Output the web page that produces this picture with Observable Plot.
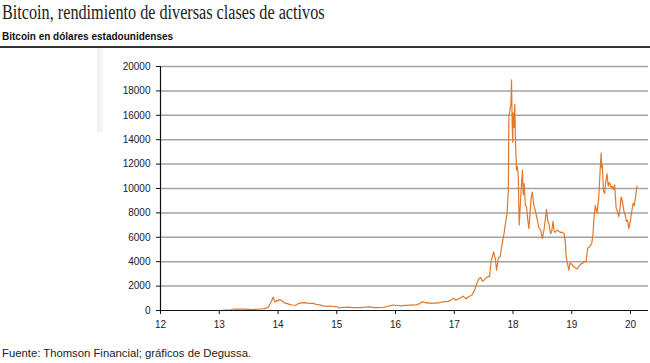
<!DOCTYPE html>
<html><head><meta charset="utf-8">
<script src="https://cdn.jsdelivr.net/npm/d3@7"></script>
<script src="https://cdn.jsdelivr.net/npm/@observablehq/plot@0.6"></script>
<style>
body{margin:0;background:#fff;width:650px;height:363px;position:relative;overflow:hidden;font-family:"Liberation Sans",Arial,sans-serif;color:#111}
#title{position:absolute;left:2px;top:1px;font-family:"Liberation Serif","Times New Roman",serif;font-size:20px;color:#222;white-space:nowrap;transform:scaleX(0.81);transform-origin:0 0}
#subtitle{position:absolute;left:2px;top:31px;font-size:10px;font-weight:bold;color:#111;white-space:nowrap}
#rule{position:absolute;left:0;top:46px;width:650px;height:1.5px;background:#333}
#band{position:absolute;left:97px;top:48px;width:6px;height:84px;background:linear-gradient(to right,#f0f0f0,#f9f9f9)}
#chart{position:absolute;left:0;top:48px}
#caption{position:absolute;left:2px;top:347px;font-size:11.3px;color:#222;white-space:nowrap}
</style></head>
<body>
<div id="title">Bitcoin, rendimiento de diversas clases de activos</div>
<div id="subtitle">Bitcoin en dólares estadounidenses</div>
<div id="rule"></div>
<div id="band"></div>
<div id="chart"></div>
<div id="caption">Fuente: Thomson Financial; gráficos de Degussa.</div>
<script>
const xTicks = [12, 13, 14, 15, 16, 17, 18, 19, 20];
const yTicks = [0, 2000, 4000, 6000, 8000, 10000, 12000, 14000, 16000, 18000, 20000];

const years = [
  13.05, 13.1, 13.15, 13.2, 13.25, 13.28, 13.32, 13.4, 13.5, 13.55,
  13.6, 13.7, 13.75, 13.8, 13.84, 13.87, 13.9, 13.92, 13.94, 13.96,
  13.98, 14.0, 14.03, 14.06, 14.1, 14.13, 14.16, 14.2, 14.25, 14.3,
  14.35, 14.4, 14.45, 14.5, 14.55, 14.6, 14.65, 14.7, 14.75, 14.8,
  14.85, 14.9, 14.95, 15.0, 15.03, 15.06, 15.1, 15.15, 15.2, 15.25,
  15.3, 15.35, 15.4, 15.45, 15.5, 15.55, 15.6, 15.65, 15.7, 15.75,
  15.8, 15.85, 15.9, 15.95, 16.0, 16.05, 16.1, 16.15, 16.2, 16.25,
  16.3, 16.35, 16.4, 16.45, 16.48, 16.52, 16.55, 16.6, 16.65, 16.7,
  16.75, 16.8, 16.85, 16.9, 16.95, 16.98, 17.0, 17.02, 17.05, 17.1,
  17.15, 17.18, 17.2, 17.25, 17.3, 17.35, 17.38, 17.42, 17.45, 17.48,
  17.52, 17.56, 17.6, 17.63, 17.67, 17.7, 17.72, 17.75, 17.78, 17.82,
  17.85, 17.87, 17.9, 17.92, 17.93, 17.95, 17.965, 17.975, 17.985, 17.995,
  18.0, 18.015, 18.03, 18.04, 18.06, 18.075, 18.09, 18.105, 18.12, 18.14,
  18.16, 18.175, 18.19, 18.21, 18.23, 18.25, 18.27, 18.29, 18.31, 18.33,
  18.35, 18.38, 18.41, 18.44, 18.47, 18.5, 18.53, 18.57, 18.59, 18.61,
  18.64, 18.66, 18.68, 18.7, 18.72, 18.75, 18.78, 18.81, 18.84, 18.87,
  18.89, 18.905, 18.93, 18.95, 18.97, 19.0, 19.03, 19.06, 19.09, 19.12,
  19.15, 19.18, 19.21, 19.245, 19.27, 19.3, 19.34, 19.36, 19.38, 19.4,
  19.43, 19.46, 19.48, 19.5, 19.51, 19.52, 19.54, 19.56, 19.58, 19.6,
  19.62, 19.64, 19.67, 19.69, 19.71, 19.73, 19.755, 19.78, 19.8, 19.82,
  19.84, 19.86, 19.885, 19.91, 19.93, 19.95, 19.97, 19.99, 20.0, 20.02,
  20.045, 20.065, 20.085, 20.11
];
const prices = [
  20, 25, 35, 60, 140, 90, 110, 115, 95, 80,
  100, 125, 130, 190, 300, 600, 900, 1100, 750, 700,
  850, 780, 900, 820, 650, 600, 560, 480, 450, 430,
  570, 620, 640, 610, 590, 590, 500, 470, 400, 360,
  340, 370, 330, 310, 240, 220, 250, 260, 270, 240,
  230, 240, 235, 260, 270, 290, 280, 230, 240, 245,
  260, 330, 380, 440, 430, 410, 380, 420, 415, 440,
  455, 450, 540, 700, 680, 620, 650, 580, 600, 610,
  640, 700, 730, 750, 880, 960, 1000, 850, 910, 1000,
  1180, 1050, 960, 1150, 1250, 1700, 2200, 2600, 2700, 2400,
  2550, 2750, 2800, 4100, 4800, 4200, 3300, 4300, 4400, 5600,
  6400, 7100, 8000, 9800, 15900, 16500, 17000, 18900, 15500, 13800,
  16200, 15000, 16900, 14200, 11500, 11800, 10900, 7000, 8300, 10000,
  11500, 9500, 10400, 8600, 8500, 7500, 6700, 8000, 9300, 9700,
  8700, 8200, 7500, 6800, 6600, 5900, 6700, 8300, 7400, 7100,
  6300, 6500, 7300, 6500, 6400, 6600, 6500, 6400, 6400, 6300,
  5600, 4400, 3800, 3300, 3900, 3800, 3600, 3500, 3400, 3600,
  3800, 3850, 4000, 4000, 5100, 5200, 5500, 6200, 7700, 8600,
  8000, 9300, 11200, 12900, 11700, 11900, 9800, 9600, 10600, 11200,
  10200, 10500, 10100, 10200, 9900, 10300, 8400, 8100, 7700, 8300,
  9300, 9000, 8200, 7800, 7300, 7400, 6700, 7200, 7400, 8100,
  8800, 8600, 9300, 10200
];

const data = years.map((t, i) => ({t, v: prices[i]}));
const font = {fontFamily: '"Liberation Sans", Arial, sans-serif', fontSize: "10px", color: "#222", background: "transparent", overflow: "visible"};

const chart = Plot.plot({
  width: 650,
  height: 292,
  marginLeft: 160,
  marginRight: 2,
  marginTop: 18,
  marginBottom: 30,
  style: font,
  x: {domain: [12, 20.306], label: null},
  y: {domain: [0, 20000], label: null},
  marks: [
    Plot.ruleY(yTicks.filter(d => d > 0), {stroke: "#a3a3a3", strokeWidth: 1.5}),
    Plot.line(data, {x: "t", y: "v", stroke: "#e0782c", strokeWidth: 1.2}),
    Plot.ruleY([0], {stroke: "#111", strokeWidth: 1.2}),
    Plot.ruleX([12], {y1: 0, y2: 20000, stroke: "#111", strokeWidth: 1.2}),
    Plot.axisY({ticks: yTicks, tickSize: 4, tickPadding: 6, tickFormat: d => String(d), label: null, stroke: "#111"}),
    Plot.axisX({ticks: xTicks, tickSize: 4, tickPadding: 6, tickFormat: d => String(d), label: null, stroke: "#111"})
  ]
});
document.getElementById("chart").appendChild(chart);
</script>
</body></html>
